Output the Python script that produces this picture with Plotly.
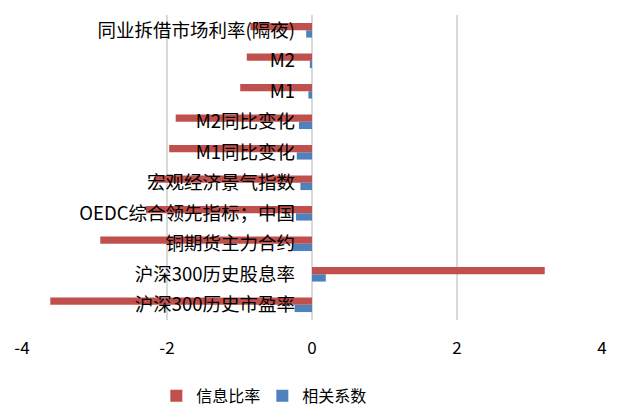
import plotly.graph_objects as go

categories = ["沪深300历史市盈率", "沪深300历史股息率", "铜期货主力合约", "OEDC综合领先指标；中国",
              "宏观经济景气指数", "M1同比变化", "M2同比变化", "M1", "M2", "同业拆借市场利率(隔夜)"]
info_ratio = [-3.61, 3.21, -2.92, -2.29, -2.17, -1.97, -1.88, -0.99, -0.90, -0.85]
corr = [-0.24, 0.19, -0.27, -0.22, -0.16, -0.21, -0.18, -0.05, -0.03, -0.08]
x_ticks = [-4, -2, 0, 2, 4]

FONT = "Noto Sans CJK SC, Noto Sans, sans-serif"

fig = go.Figure()
fig.add_trace(go.Bar(y=categories, x=corr, orientation="h", name="相关系数",
                     marker=dict(color="#4F81BD", line=dict(width=0)), legendrank=2))
fig.add_trace(go.Bar(y=categories, x=info_ratio, orientation="h", name="信息比率",
                     marker=dict(color="#C0504D", line=dict(width=0)), legendrank=1))

fig.update_layout(
    width=617, height=408,
    margin=dict(l=22, r=15, t=15, b=88, autoexpand=False),
    paper_bgcolor="white", plot_bgcolor="white",
    barmode="group", bargap=0.52, bargroupgap=0,
    font=dict(family=FONT, size=17, color="#000000"),
    showlegend=True,
    legend=dict(orientation="h", x=0.2316, xanchor="left", yref="container", y=0.03,
                yanchor="middle", font=dict(size=16), itemwidth=30,
                entrywidth=61, entrywidthmode="pixels"),
    xaxis=dict(range=[-4, 4], tickvals=x_ticks, ticktext=[str(v) for v in x_ticks],
               showgrid=True, gridcolor="#D9D9D9", gridwidth=1.5, zeroline=False,
               showline=False, ticks="", ticklabelstandoff=16, fixedrange=True,
               tickfont=dict(size=17)),
    yaxis=dict(type="category", categoryorder="array", categoryarray=categories,
               anchor="free", position=0.5, showgrid=False, zeroline=False, showline=False,
               ticks="", ticklabelstandoff=17, fixedrange=True, tickfont=dict(size=18.5)),
)

fig.write_html("out.html")
